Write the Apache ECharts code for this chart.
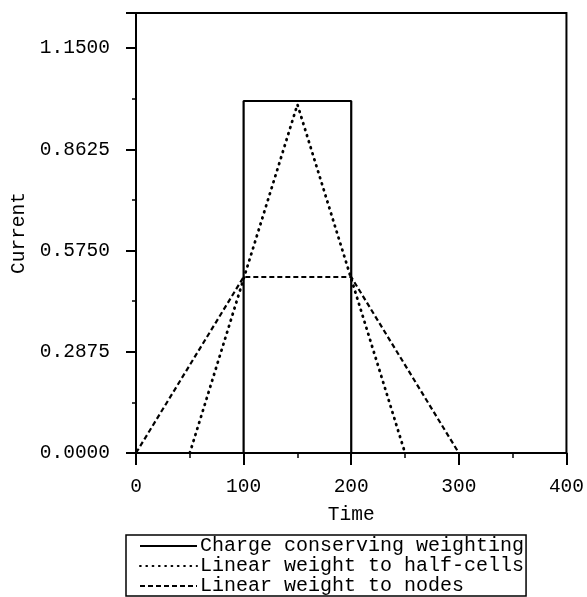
<!DOCTYPE html>
<html>
<head>
<meta charset="utf-8">
<script src="https://cdn.jsdelivr.net/npm/echarts@6/dist/echarts.min.js"></script>
<style>
html,body{margin:0;padding:0;background:#fff;}
#chart{width:587px;height:597px;}
</style>
</head>
<body>
<div id="chart"></div>
<script>
// Data
const seriesNames = ['Charge conserving weighting', 'Linear weight to half-cells', 'Linear weight to nodes'];
const chargeTime = [0, 100, 100, 200, 200, 400];
const chargeCurrent = [0, 0, 1.0, 1.0, 0, 0];
const halfTime = [50, 150, 250];
const halfCurrent = [0, 0.99, 0];
const nodeTime = [0, 100, 200, 300];
const nodeCurrent = [0, 0.5, 0.5, 0];
const xTickInterval = 100;
const yTickInterval = 0.2875;
const xRange = [0, 400];
const yRange = [0, 1.25];

const font = 'Liberation Mono, Courier New, monospace';
const pair = (xs, ys) => xs.map((x, i) => [x, ys[i]]);

const chart = echarts.init(document.getElementById('chart'), null, {renderer: 'canvas'});
chart.setOption({
  backgroundColor: '#ffffff',
  animation: false,
  grid: {left: 136, right: 19, top: 13, bottom: 144, show: true, borderColor: '#000', borderWidth: 2, backgroundColor: 'transparent'},
  xAxis: {
    type: 'value', min: xRange[0], max: xRange[1], interval: xTickInterval,
    name: 'Time', nameLocation: 'middle', nameGap: 52,
    nameTextStyle: {fontFamily: font, fontSize: 19.5, color: '#000'},
    axisLine: {show: true, lineStyle: {color: '#000', width: 2}},
    axisTick: {show: true, inside: false, length: 12, lineStyle: {color: '#000', width: 2}},
    minorTick: {show: true, splitNumber: 2, length: 5, lineStyle: {color: '#000', width: 1.5}},
    splitLine: {show: false},
    axisLabel: {fontFamily: font, fontSize: 19.5, color: '#000', margin: 24}
  },
  yAxis: {
    type: 'value', min: yRange[0], max: yRange[1], interval: yTickInterval,
    name: 'Current', nameLocation: 'middle', nameGap: 106,
    nameTextStyle: {fontFamily: font, fontSize: 19.5, color: '#000'},
    axisLine: {show: true, lineStyle: {color: '#000', width: 2}},
    axisTick: {show: true, inside: false, length: 10, lineStyle: {color: '#000', width: 2}},
    minorTick: {show: true, splitNumber: 2, length: 4, lineStyle: {color: '#000', width: 1.5}},
    splitLine: {show: false},
    axisLabel: {fontFamily: font, fontSize: 19.5, color: '#000', margin: 26, showMaxLabel: false,
      formatter: v => v.toFixed(4)}
  },
  legend: {
    show: true, orient: 'vertical', left: 126, top: 535,
    data: seriesNames,
    itemWidth: 57, itemHeight: 20, itemGap: 0,
    padding: [1, 2, 0, 13],
    borderColor: '#000', borderWidth: 1.5, backgroundColor: '#fff',
    itemStyle: {opacity: 0},
    textStyle: {fontFamily: font, fontSize: 20, color: '#000', padding: [0, 0, 0, -2]},
    selectedMode: false
  },
  series: [
    {name: seriesNames[0], type: 'line', data: pair(chargeTime, chargeCurrent), symbol: 'none',
      lineStyle: {color: '#000', width: 2.2, type: 'solid'}, itemStyle: {color: '#000'}},
    {name: seriesNames[1], type: 'line', data: pair(halfTime, halfCurrent), symbol: 'none',
      lineStyle: {color: '#000', width: 2.8, type: [0.8, 5.5], cap: 'round'}, itemStyle: {color: '#000'}},
    {name: seriesNames[2], type: 'line', data: pair(nodeTime, nodeCurrent), symbol: 'none',
      lineStyle: {color: '#000', width: 2.2, type: [5, 3]}, itemStyle: {color: '#000'}}
  ]
});
</script>
</body>
</html>
